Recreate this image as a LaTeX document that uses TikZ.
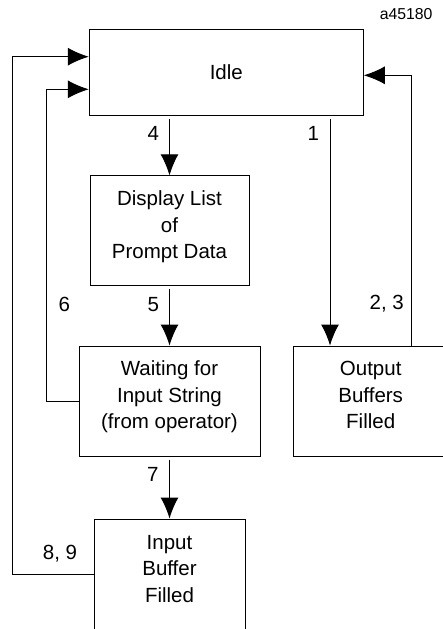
\documentclass[tikz,border=0pt]{standalone}
\usepackage{fontspec}
\setmainfont{Liberation Sans}
\usetikzlibrary{arrows.meta,positioning}

\begin{document}
\begin{tikzpicture}[
    x=1pt, y=-1pt,
    state/.style={draw, line width=1pt, align=center, inner sep=0pt, text depth=12pt, font=\fontsize{20.5}{26.5}\selectfont},
    num/.style={anchor=base, inner sep=0pt, font=\fontsize{20.5}{24}\selectfont},
    arrow/.style={-{Latex[length=21pt,width=18pt]}, line width=1pt},
    link/.style={line width=1pt}
  ]
    \clip (0,0) rectangle (443,629);
    \node[anchor=base east, inner sep=0pt, font=\fontsize{15.8}{18}\selectfont] (tag) at (432.7,19.3) {a45180};

    \node[state, text depth=0pt, minimum width=274pt, minimum height=86pt] (idle) at (226.3,72.3) {Idle};
    \node[state, minimum width=159pt, minimum height=110pt] (display) at (169.5,230.8) {Display List\\of\\Prompt Data};
    \node[state, minimum width=181pt, minimum height=110pt] (waiting) at (169.5,401) {Waiting for\\Input String\\(from operator)};
    \node[state, minimum width=155pt, minimum height=110pt] (outbuf) at (370.7,401) {Output\\Buffers\\Filled};
    \node[state, minimum width=151pt, minimum height=111pt] (inbuf) at (169.5,574.5) {Input\\Buffer\\Filled};

    \coordinate (x1) at (330,0);
    \coordinate (r23) at (411,75.3);
    \coordinate (l6) at (46.7,89.3);
    \coordinate (l89) at (12.7,56.7);

    \draw[arrow, shorten <=3pt] (idle.south -| display.north) -- (display.north);
    \draw[arrow, shorten <=3pt] (display.south) -- (waiting.north);
    \draw[arrow, shorten <=3pt] (waiting.south) -- (inbuf.north);
    \draw[arrow, shorten <=3pt] (idle.south -| x1) -- (outbuf.north -| x1);
    \draw[arrow] (r23 |- outbuf.north) -- (r23) -- (r23 -| idle.east);
    \draw[arrow] (waiting.west) -| (l6) -- (l6 -| idle.west);
    \draw[arrow] (inbuf.west) -| (l89) -- (l89 -| idle.west);

    \node[num] (n4) at (153.3,140.7) {4};
    \node[num] (n1) at (313.3,140.7) {1};
    \node[num] (n5) at (153.3,311.7) {5};
    \node[num] (n6) at (64.3,311.7) {6};
    \node[num] (n23) at (386.7,309) {2, 3};
    \node[num] (n7) at (152.7,481.7) {7};
    \node[num] (n89) at (60,559.3) {8, 9};
\end{tikzpicture}
\end{document}
